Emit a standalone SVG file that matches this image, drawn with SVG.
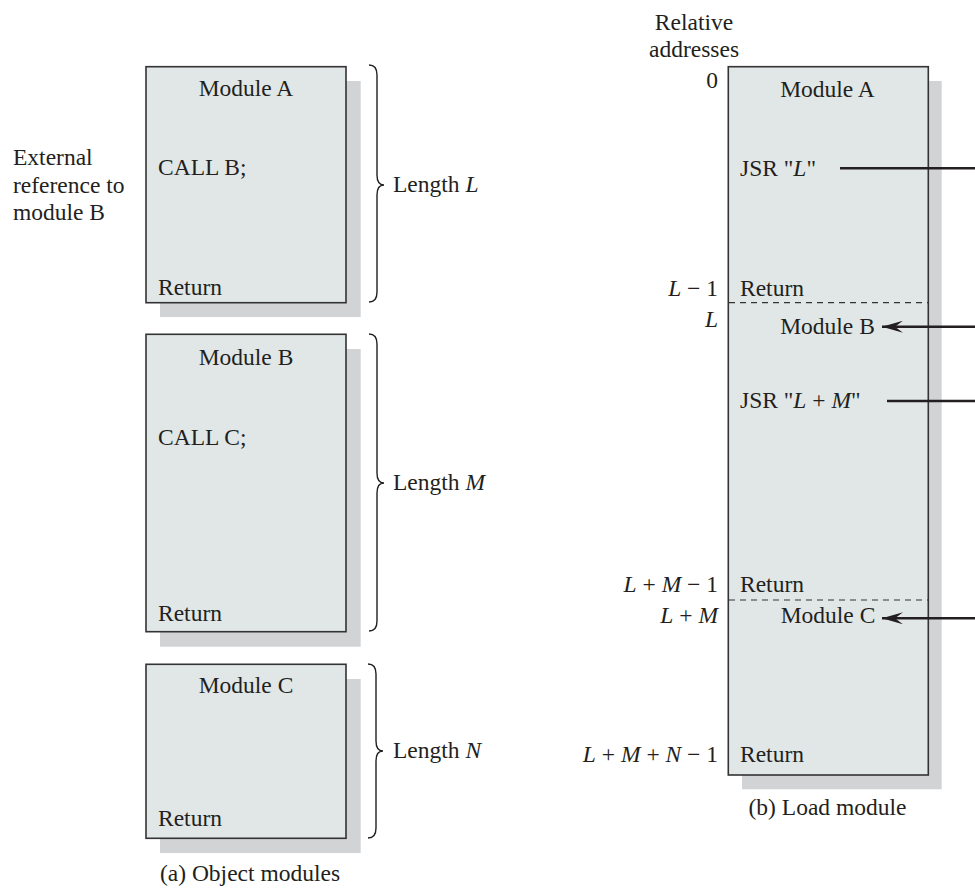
<svg xmlns="http://www.w3.org/2000/svg" width="975" height="892" viewBox="0 0 975 892">
<defs>
<style>
text{font-family:"Liberation Serif","Times New Roman",serif;font-size:23.5px;fill:#231f20}
.c{text-anchor:middle}
.r{text-anchor:end}
.i{font-style:italic}
.box{fill:#e1e7e7;stroke:#333;stroke-width:1.6}
.sh{fill:#d1d3d4}
.brace{fill:none;stroke:#231f20;stroke-width:1.4}
.dash{stroke:#333;stroke-width:1.2;stroke-dasharray:6,5}
.arr{stroke:#231f20;stroke-width:2.6;fill:none}
</style>
<marker id="ah" viewBox="0 0 22 12" refX="21" refY="6" markerWidth="22" markerHeight="12" markerUnits="userSpaceOnUse" orient="auto">
<path d="M21,6 L0,0 L8,6 L0,12 Z" fill="#231f20"/>
</marker>
</defs>
<rect width="975" height="892" fill="#fff"/>

<g id="moduleA">
<rect class="sh" x="160" y="81" width="200.7" height="236"/>
<rect class="box" x="146" y="66.7" width="200" height="236"/>
<text class="c" x="246" y="96">Module A</text>
<text x="158" y="175">CALL B;</text>
<text x="158" y="295">Return</text>
</g>
<g id="braceA">
<path class="brace" d="M369,65 Q377,65 377,75 L377,175 Q377,185 384,185 Q377,185 377,195 L377,292 Q377,302 369,302"/>
<text x="393" y="192">Length <tspan class="i">L</tspan></text>
</g>
<g id="extref">
<text x="13" y="165">External</text>
<text x="13" y="192.7">reference to</text>
<text x="13" y="220">module B</text>
</g>

<g id="moduleB">
<rect class="sh" x="160" y="349" width="200.7" height="297.7"/>
<rect class="box" x="146" y="334.3" width="200" height="297.4"/>
<text class="c" x="246" y="365">Module B</text>
<text x="158" y="445">CALL C;</text>
<text x="158" y="620.7">Return</text>
</g>
<g id="braceB">
<path class="brace" d="M369,334 Q377,334 377,344 L377,473 Q377,483 384,483 Q377,483 377,493 L377,621 Q377,631 369,631"/>
<text x="393" y="490">Length <tspan class="i">M</tspan></text>
</g>

<g id="moduleC">
<rect class="sh" x="160" y="679" width="200.7" height="174"/>
<rect class="box" x="146" y="664.3" width="200" height="174"/>
<text class="c" x="246" y="693.3">Module C</text>
<text x="158" y="826">Return</text>
</g>
<g id="braceC">
<path class="brace" d="M368,664 Q376,664 376,674 L376,741 Q376,751 383,751 Q376,751 376,761 L376,828 Q376,838 368,838"/>
<text x="393" y="758">Length <tspan class="i">N</tspan></text>
</g>
<text id="captionA" class="c" x="250" y="881">(a) Object modules</text>

<g id="loadmodule">
<rect class="sh" x="742" y="81" width="199.7" height="708.3"/>
<rect class="box" x="728.3" y="66.7" width="200" height="708.3"/>
<line class="dash" x1="729" y1="302.7" x2="928" y2="302.7"/>
<line class="dash" x1="729" y1="600" x2="928" y2="600"/>
<text class="c" x="827.5" y="96.7">Module A</text>
<text x="740" y="175.7">JSR "<tspan class="i">L</tspan>"</text>
<text x="740" y="295.7">Return</text>
<text class="c" x="827.5" y="334.3">Module B</text>
<text x="740" y="408.3">JSR "<tspan class="i">L</tspan> + <tspan class="i">M</tspan>"</text>
<text x="740" y="591.7">Return</text>
<text class="c" x="828" y="623.3">Module C</text>
<text x="740" y="761.7">Return</text>
</g>
<g id="addresses">
<text class="c" x="694" y="30">Relative</text>
<text class="c" x="694" y="56.7">addresses</text>
<text class="r" x="718" y="88.3">0</text>
<text class="r" x="718" y="295.7"><tspan class="i">L</tspan> − 1</text>
<text class="r" x="718" y="326.7"><tspan class="i">L</tspan></text>
<text class="r" x="718" y="591.7"><tspan class="i">L</tspan> + <tspan class="i">M</tspan> − 1</text>
<text class="r" x="718" y="623.3"><tspan class="i">L</tspan> + <tspan class="i">M</tspan></text>
<text class="r" x="718" y="761.7"><tspan class="i">L</tspan> + <tspan class="i">M</tspan> + <tspan class="i">N</tspan> − 1</text>
</g>
<text id="captionB" class="c" x="827.5" y="815">(b) Load module</text>

<g id="connectors">
<line class="arr" x1="840" y1="168.3" x2="975" y2="168.3"/>
<line class="arr" x1="975" y1="326.7" x2="882" y2="326.7" marker-end="url(#ah)"/>
<line class="arr" x1="887" y1="401" x2="975" y2="401"/>
<line class="arr" x1="975" y1="618.3" x2="882" y2="618.3" marker-end="url(#ah)"/>
</g>
</svg>
